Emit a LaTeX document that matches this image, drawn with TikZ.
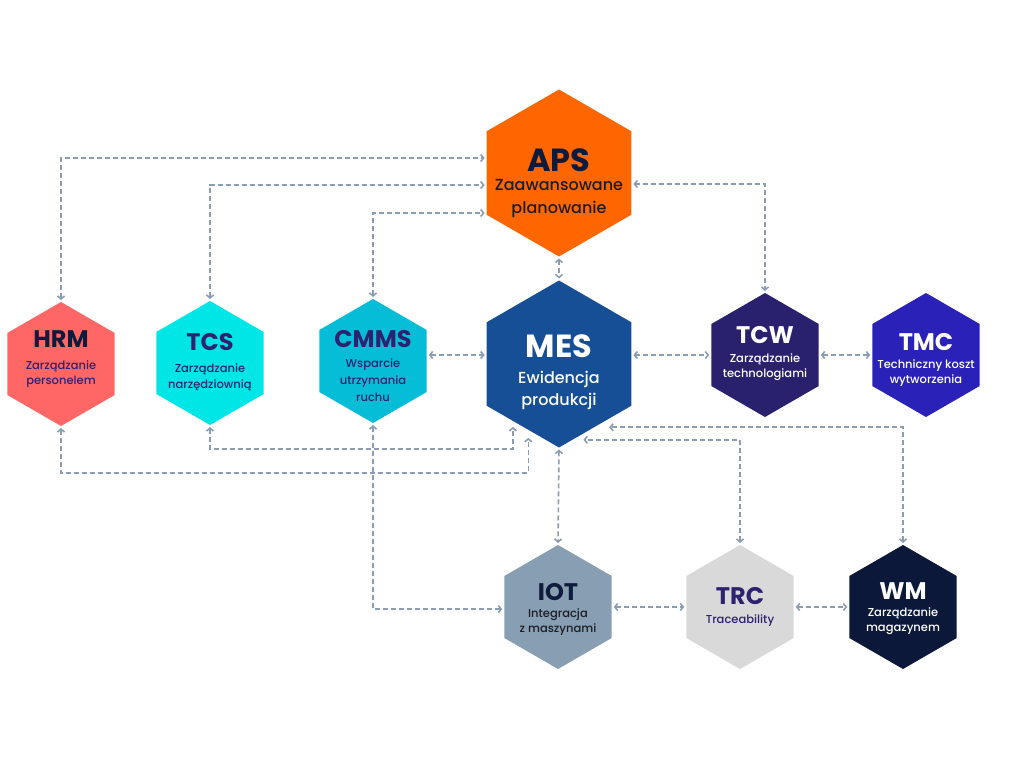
\documentclass[tikz,border=0pt]{standalone}
\usepackage{fontspec}
\setmainfont{Poppins}
\newfontfamily\medfont{Poppins Medium}
\usetikzlibrary{shapes.geometric,arrows.meta}

\definecolor{apsorange}{HTML}{FF6600}
\definecolor{mesblue}{HTML}{174F96}
\definecolor{hrmred}{HTML}{FF6666}
\definecolor{tcscyan}{HTML}{00E6E6}
\definecolor{cmmscyan}{HTML}{05BDD6}
\definecolor{tcwindigo}{HTML}{29206E}
\definecolor{tmcviolet}{HTML}{2A21B8}
\definecolor{iotgray}{HTML}{889EB2}
\definecolor{trcgray}{HTML}{D9D9D9}
\definecolor{wmnavy}{HTML}{0C1839}
\definecolor{txtnavy}{HTML}{0F1B3D}
\definecolor{txtpurple}{HTML}{2D2270}
\definecolor{txtdark}{HTML}{1B1D26}
\definecolor{linkgray}{HTML}{8A9DB3}

\begin{document}
\begin{tikzpicture}[x=1pt,y=-1pt,
    >={Straight Barb[length=3pt,width=7pt]},
    hex/.style={regular polygon, regular polygon sides=6, shape border rotate=30,
      inner sep=0pt, outer sep=0pt, minimum size=124pt},
    hexbig/.style={hex, minimum size=167pt},
    ttl/.style={font=\bfseries\fontsize{24}{24}\selectfont, inner sep=0pt},
    ttlbig/.style={font=\bfseries\fontsize{32}{32}\selectfont, inner sep=0pt},
    sub/.style={font=\medfont\fontsize{11.5}{15}\selectfont, align=center, inner sep=0pt},
    subbig/.style={font=\medfont\fontsize{16}{23}\selectfont, align=center, inner sep=0pt},
    link/.style={draw=linkgray, line width=1.6pt, dash pattern=on 5pt off 3pt, <->,
      shorten <=2pt, shorten >=2pt}]
  \useasboundingbox (0,0) rectangle (1024,768);

  % hexagons
  \node[hexbig, fill=apsorange] (aps) at (559,173) {};
  \node[hexbig, fill=mesblue] (mes) at (559,364) {};
  \node[hex, fill=hrmred] (hrm) at (61,364) {};
  \node[hex, fill=tcscyan] (tcs) at (210,363) {};
  \node[hex, fill=cmmscyan] (cmms) at (373,361) {};
  \node[hex, fill=tcwindigo] (tcw) at (765,355) {};
  \node[hex, fill=tmcviolet] (tmc) at (926,355) {};
  \node[hex, fill=iotgray] (iot) at (558,607) {};
  \node[hex, fill=trcgray] (trc) at (740,607) {};
  \node[hex, fill=wmnavy] (wm) at (903,607) {};

  % labels
  \node[ttlbig, text=txtnavy] (aps-t) at ([yshift=13pt]aps.center) {APS};
  \node[subbig, text=txtdark] (aps-s) at ([yshift=-26pt]aps.center) {Zaawansowane\\planowanie};
  \node[ttlbig, text=white] (mes-t) at ([yshift=18pt]mes.center) {MES};
  \node[subbig, font=\medfont\fontsize{16}{22}\selectfont, text=white] (mes-s) at ([yshift=-26pt]mes.center) {Ewidencja\\produkcji};
  \node[ttl, text=txtnavy] (hrm-t) at ([yshift=25pt]hrm.center) {HRM};
  \node[sub, text=txtpurple] (hrm-s) at ([yshift=-10pt]hrm.center) {Zarządzanie\\personelem};
  \node[ttl, text=txtpurple] (tcs-t) at ([yshift=21pt]tcs.center) {TCS};
  \node[sub, font=\medfont\fontsize{11.5}{16}\selectfont, text=txtpurple] (tcs-s) at ([yshift=-14pt]tcs.center) {Zarządzanie\\narzędziownią};
  \node[ttl, text=txtpurple] (cmms-t) at ([yshift=22pt]cmms.center) {CMMS};
  \node[sub, font=\medfont\fontsize{11.5}{17}\selectfont, text=txtpurple] (cmms-s) at ([yshift=-19pt]cmms.center) {Wsparcie\\utrzymania\\ruchu};
  \node[ttl, text=white] (tcw-t) at ([yshift=20pt]tcw.center) {TCW};
  \node[sub, text=white] (tcw-s) at ([yshift=-12pt]tcw.center) {Zarządzanie\\technologiami};
  \node[ttl, text=white] (tmc-t) at ([yshift=13pt]tmc.center) {TMC};
  \node[sub, text=white] (tmc-s) at ([yshift=-18pt]tmc.center) {Techniczny koszt\\wytworzenia};
  \node[ttl, text=txtnavy] (iot-t) at ([yshift=15pt]iot.center) {IOT};
  \node[sub, text=txtdark] (iot-s) at ([yshift=-15pt]iot.center) {Integracja\\z maszynami};
  \node[ttl, text=txtpurple] (trc-t) at ([yshift=11pt]trc.center) {TRC};
  \node[sub, text=txtpurple] (trc-s) at ([yshift=-14pt]trc.center) {Traceability};
  \node[ttl, text=white] (wm-t) at ([yshift=16pt]wm.center) {WM};
  \node[sub, text=white] (wm-s) at ([yshift=-14pt]wm.center) {Zarządzanie\\magazynem};

  % connectors
  \draw[link] (hrm.north) |- ([yshift=15pt]aps.west);
  \draw[link] (tcs.north) |- ([yshift=-12pt]aps.west);
  \draw[link] (cmms.north) |- ([yshift=-40pt]aps.west);
  \draw[link] (aps.south) -- (mes.north);
  \draw[link] ([yshift=-11pt]aps.east) -| (tcw.north);
  \draw[link] (cmms.east |- tcw) -- (mes.west |- tcw);
  \draw[link] (mes.east |- tcw) -- (tcw.west);
  \draw[link] (tcw.east) -- (tmc.west);
  \draw[link, shorten >=6pt] (tcs.south) -- ++(0,24) -| (mes.231);
  \draw[link, shorten >=8pt] (hrm.south) -- ++(0,47) -| (mes.245);
  \draw[link] (cmms.south) |- ([yshift=-2pt]iot.west);
  \draw[link] (mes.south) -- (iot.north);
  \draw[link, shorten >=11pt] (trc.north) |- (mes.-80);
  \draw[link, shorten >=15pt] (wm.north) |- (mes.-61);
  \draw[link] (iot.east) -- (trc.west);
  \draw[link] (trc.east) -- (wm.west);
\end{tikzpicture}
\end{document}
